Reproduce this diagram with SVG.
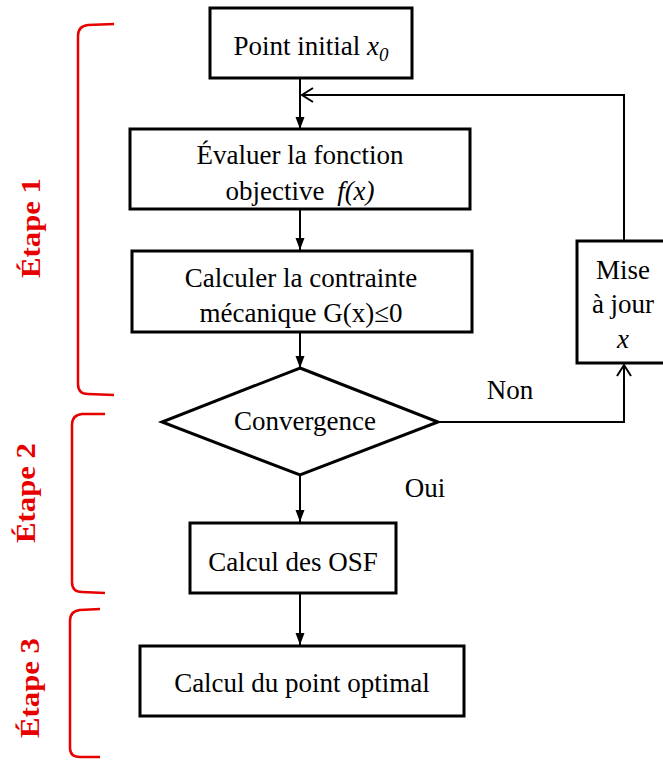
<svg xmlns="http://www.w3.org/2000/svg" width="663" height="760" viewBox="0 0 663 760">
<style>
.box{fill:#fff;stroke:#000;stroke-width:3}
.t{font-family:"Liberation Serif","Times New Roman",serif;font-size:27px;fill:#000;text-anchor:middle}
.i{font-style:italic}
.c{fill:none;stroke:#000;stroke-width:2}
.br{fill:none;stroke:#e60000;stroke-width:2.5}
.et{font-family:"Liberation Serif","Times New Roman",serif;font-size:27px;font-weight:bold;fill:#e60000;text-anchor:middle}
</style>
<defs>
<marker id="ah" markerUnits="userSpaceOnUse" markerWidth="12" markerHeight="10" refX="12" refY="4.5" orient="auto">
<path d="M0,0 L12,4.5 L0,9 z" fill="#000"/>
</marker>
<marker id="oa" markerUnits="userSpaceOnUse" markerWidth="14" markerHeight="18" refX="12" refY="8" orient="auto">
<path d="M1,1 L12,8 L1,15" fill="none" stroke="#000" stroke-width="2"/>
</marker>
</defs>
<rect width="663" height="760" fill="#fff"/>

<g id="connectors">
<line class="c" x1="300" y1="79" x2="300" y2="129" marker-end="url(#ah)"/>
<line class="c" x1="300" y1="210" x2="300" y2="250" marker-end="url(#ah)"/>
<line class="c" x1="300" y1="333" x2="300" y2="368" marker-end="url(#ah)"/>
<line class="c" x1="300" y1="476" x2="300" y2="522" marker-end="url(#ah)"/>
<line class="c" x1="300" y1="594" x2="300" y2="645" marker-end="url(#ah)"/>
<polyline class="c" points="624,241 624,95 302,95" marker-end="url(#oa)"/>
<polyline class="c" points="438,422 624,422 624,365" marker-end="url(#oa)"/>
</g>

<g id="n-start">
<rect class="box" x="210" y="8" width="202" height="70"/>
<text class="t" x="311" y="55" font-size="28">Point initial <tspan class="i">x</tspan><tspan class="i" font-size="19" dy="6">0</tspan></text>
</g>

<g id="n-eval">
<rect class="box" x="130" y="129" width="340" height="80"/>
<text class="t" x="300" y="164">Évaluer la fonction</text>
<text class="t" x="300" y="200">objective <tspan class="i" dx="6">f(x)</tspan></text>
</g>

<g id="n-contrainte">
<rect class="box" x="132" y="251" width="340" height="81"/>
<text class="t" x="301" y="287">Calculer la contrainte</text>
<text class="t" x="301" y="322">mécanique G(x)≤0</text>
</g>

<g id="n-conv">
<polygon points="300,368 438,422 300,475 162,422" fill="#fff" stroke="#000" stroke-width="3" stroke-linejoin="miter"/>
<text class="t" x="305" y="430" font-size="26">Convergence</text>
</g>

<g id="n-maj">
<rect class="box" x="577" y="241" width="94" height="122"/>
<text class="t" x="623" y="279">Mise</text>
<text class="t" x="623" y="313">à jour</text>
<text class="t i" x="623" y="348">x</text>
</g>

<g id="n-osf">
<rect class="box" x="190" y="523" width="206" height="70"/>
<text class="t" x="293" y="571">Calcul des OSF</text>
</g>

<g id="n-opt">
<rect class="box" x="140" y="646" width="324" height="70"/>
<text class="t" x="302" y="692">Calcul du point optimal</text>
</g>

<g id="labels">
<text class="t" x="510" y="399" font-size="26">Non</text>
<text class="t" x="425" y="497" font-size="26">Oui</text>
</g>

<g id="etapes">
<path class="br" d="M114,24 L88,25 Q78,26 78,36 L78,384 Q78,394 88,394 L114,395"/>
<path class="br" d="M105,414 L82,414 Q72,415 72,425 L72,582 Q72,592 82,592 L105,593"/>
<path class="br" d="M100,609 L80,610 Q70,611 70,621 L70,748 Q70,757 80,757 L100,757"/>
<text class="et" transform="translate(40,228) rotate(-90)" textLength="100" lengthAdjust="spacingAndGlyphs">Étape 1</text>
<text class="et" transform="translate(35,493) rotate(-90)" textLength="100" lengthAdjust="spacingAndGlyphs">Étape 2</text>
<text class="et" transform="translate(39,688) rotate(-90)" textLength="100" lengthAdjust="spacingAndGlyphs">Étape 3</text>
</g>
</svg>
